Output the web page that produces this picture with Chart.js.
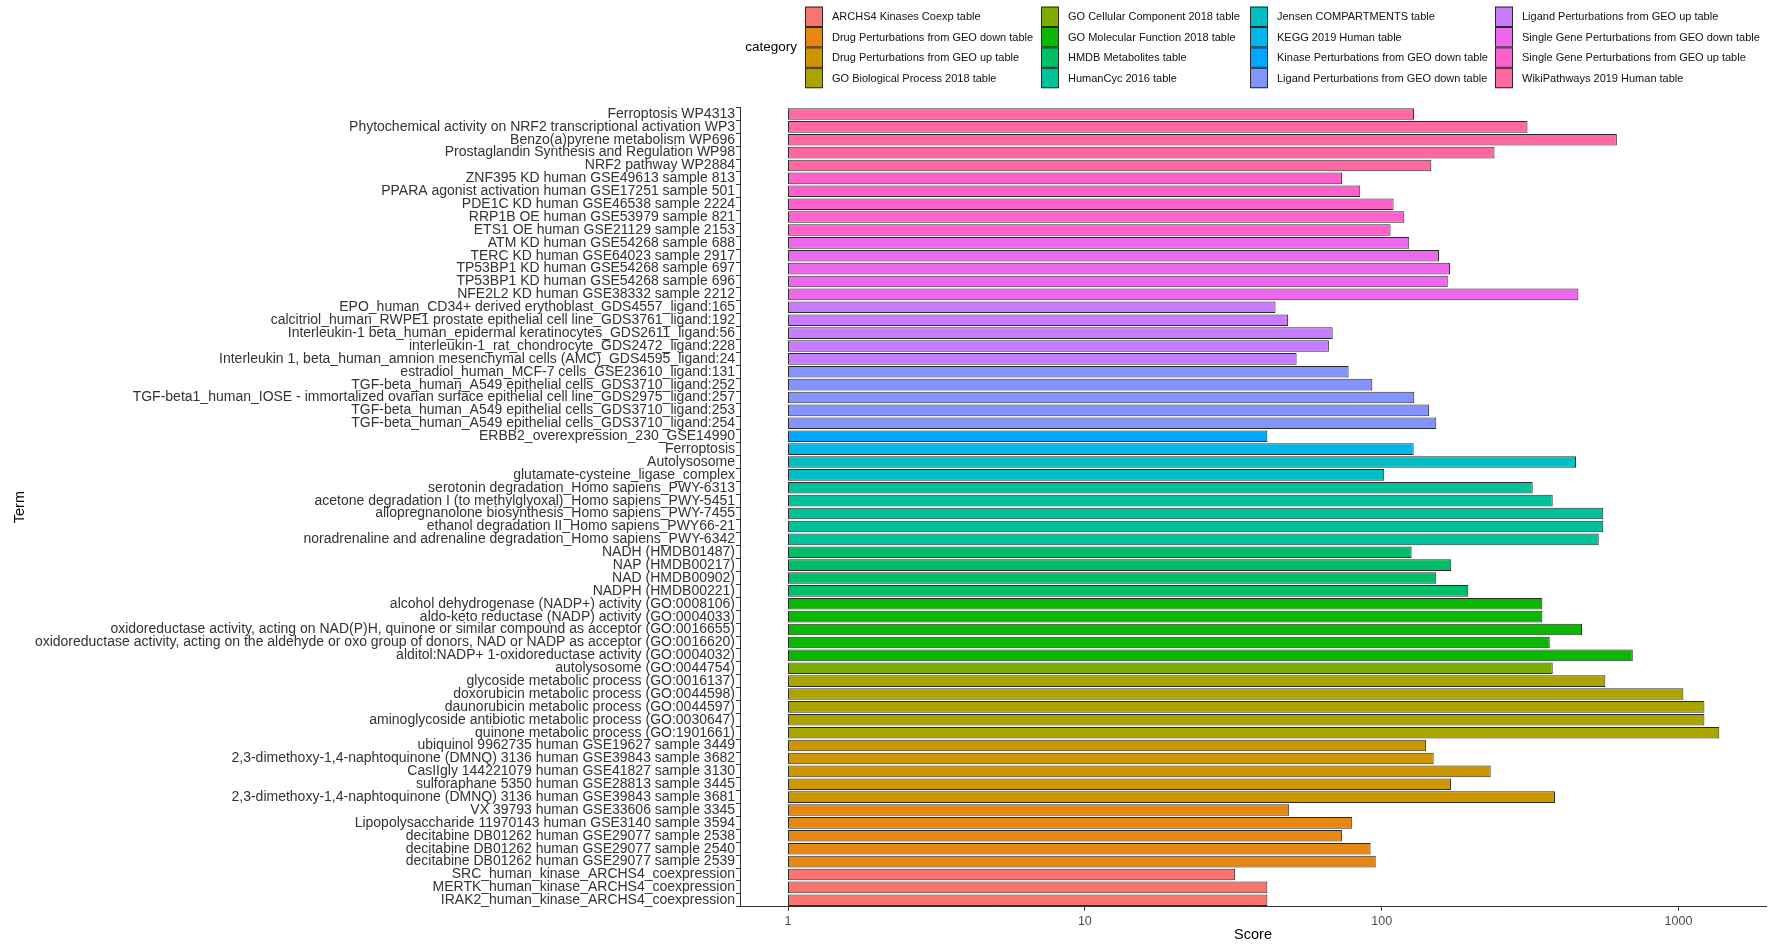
<!DOCTYPE html>
<html>
<head>
<meta charset="utf-8">
<script src="https://cdn.jsdelivr.net/npm/chart.js@4.4.1/dist/chart.umd.min.js"></script>
<style>
  html, body { margin: 0; padding: 0; background: #ffffff; }
  canvas { display: block; }
</style>
</head>
<body>
<canvas id="chart" width="1773" height="944"></canvas>
<script>
// Enrichment libraries (legend order)
const categories = [
  "ARCHS4 Kinases Coexp table",
  "Drug Perturbations from GEO down table",
  "Drug Perturbations from GEO up table",
  "GO Biological Process 2018 table",
  "GO Cellular Component 2018 table",
  "GO Molecular Function 2018 table",
  "HMDB Metabolites table",
  "HumanCyc 2016 table",
  "Jensen COMPARTMENTS table",
  "KEGG 2019 Human table",
  "Kinase Perturbations from GEO down table",
  "Ligand Perturbations from GEO down table",
  "Ligand Perturbations from GEO up table",
  "Single Gene Perturbations from GEO down table",
  "Single Gene Perturbations from GEO up table",
  "WikiPathways 2019 Human table"
];

// Hue palette, one colour per library
const categoryColors = [
  "#F8766D", "#E68613", "#CD9600", "#ABA300", "#7CAE00", "#0CB702", "#00BE67", "#00C19A",
  "#00BFC4", "#00B8E7", "#00A9FF", "#8494FF", "#C77CFF", "#ED68ED", "#FF61CC", "#FF68A1"
];

// Terms, top to bottom
const terms = [
  "Ferroptosis WP4313",
  "Phytochemical activity on NRF2 transcriptional activation WP3",
  "Benzo(a)pyrene metabolism WP696",
  "Prostaglandin Synthesis and Regulation WP98",
  "NRF2 pathway WP2884",
  "ZNF395 KD human GSE49613 sample 813",
  "PPARA agonist activation human GSE17251 sample 501",
  "PDE1C KD human GSE46538 sample 2224",
  "RRP1B OE human GSE53979 sample 821",
  "ETS1 OE human GSE21129 sample 2153",
  "ATM KD human GSE54268 sample 688",
  "TERC KD human GSE64023 sample 2917",
  "TP53BP1 KD human GSE54268 sample 697",
  "TP53BP1 KD human GSE54268 sample 696",
  "NFE2L2 KD human GSE38332 sample 2212",
  "EPO_human_CD34+ derived erythoblast_GDS4557_ligand:165",
  "calcitriol_human_RWPE1 prostate epithelial cell line_GDS3761_ligand:192",
  "Interleukin-1 beta_human_epidermal keratinocytes_GDS2611_ligand:56",
  "interleukin-1_rat_chondrocyte_GDS2472_ligand:228",
  "Interleukin 1, beta_human_amnion mesenchymal cells (AMC)_GDS4595_ligand:24",
  "estradiol_human_MCF-7 cells_GSE23610_ligand:131",
  "TGF-beta_human_A549 epithelial cells_GDS3710_ligand:252",
  "TGF-beta1_human_IOSE - immortalized ovarian surface epithelial cell line_GDS2975_ligand:257",
  "TGF-beta_human_A549 epithelial cells_GDS3710_ligand:253",
  "TGF-beta_human_A549 epithelial cells_GDS3710_ligand:254",
  "ERBB2_overexpression_230_GSE14990",
  "Ferroptosis",
  "Autolysosome",
  "glutamate-cysteine_ligase_complex",
  "serotonin degradation_Homo sapiens_PWY-6313",
  "acetone degradation I (to methylglyoxal)_Homo sapiens_PWY-5451",
  "allopregnanolone biosynthesis_Homo sapiens_PWY-7455",
  "ethanol degradation II_Homo sapiens_PWY66-21",
  "noradrenaline and adrenaline degradation_Homo sapiens_PWY-6342",
  "NADH (HMDB01487)",
  "NAP (HMDB00217)",
  "NAD (HMDB00902)",
  "NADPH (HMDB00221)",
  "alcohol dehydrogenase (NADP+) activity (GO:0008106)",
  "aldo-keto reductase (NADP) activity (GO:0004033)",
  "oxidoreductase activity, acting on NAD(P)H, quinone or similar compound as acceptor (GO:0016655)",
  "oxidoreductase activity, acting on the aldehyde or oxo group of donors, NAD or NADP as acceptor (GO:0016620)",
  "alditol:NADP+ 1-oxidoreductase activity (GO:0004032)",
  "autolysosome (GO:0044754)",
  "glycoside metabolic process (GO:0016137)",
  "doxorubicin metabolic process (GO:0044598)",
  "daunorubicin metabolic process (GO:0044597)",
  "aminoglycoside antibiotic metabolic process (GO:0030647)",
  "quinone metabolic process (GO:1901661)",
  "ubiquinol 9962735 human GSE19627 sample 3449",
  "2,3-dimethoxy-1,4-naphtoquinone (DMNQ) 3136 human GSE39843 sample 3682",
  "CasIIgly 144221079 human GSE41827 sample 3130",
  "sulforaphane 5350 human GSE28813 sample 3445",
  "2,3-dimethoxy-1,4-naphtoquinone (DMNQ) 3136 human GSE39843 sample 3681",
  "VX 39793 human GSE33606 sample 3345",
  "Lipopolysaccharide 11970143 human GSE3140 sample 3594",
  "decitabine DB01262 human GSE29077 sample 2538",
  "decitabine DB01262 human GSE29077 sample 2540",
  "decitabine DB01262 human GSE29077 sample 2539",
  "SRC_human_kinase_ARCHS4_coexpression",
  "MERTK_human_kinase_ARCHS4_coexpression",
  "IRAK2_human_kinase_ARCHS4_coexpression"
];

// Combined score per term
const scores = [
  128.5, 310, 620, 240, 147,
  73.6, 84.7, 109.7, 119.2, 107.2,
  123.9, 156, 170, 167, 460,
  43.9, 48.4, 68.4, 66.4, 51.7,
  77.4, 93, 128.8, 144.3, 152.8,
  41.2,
  128.2,
  451.6, 102,
  322.8, 377, 558, 558, 538.8,
  126.2, 171.6, 152.8, 195.8,
  347.8, 347.8, 473.3, 368.4, 701.5,
  377,
  567, 1039, 1223, 1223, 1373,
  141, 149.7, 233, 171.2, 383.7,
  48.8, 79.6, 73.6, 91.8, 95.5,
  32.1, 41.2, 41.2
];

// Library index (into categories) for each term
const termCategory = [
  15, 15, 15, 15, 15,
  14, 14, 14, 14, 14,
  13, 13, 13, 13, 13,
  12, 12, 12, 12, 12,
  11, 11, 11, 11, 11,
  10,
  9,
  8, 8,
  7, 7, 7, 7, 7,
  6, 6, 6, 6,
  5, 5, 5, 5, 5,
  4,
  3, 3, 3, 3, 3,
  2, 2, 2, 2, 2,
  1, 1, 1, 1, 1,
  0, 0, 0
];

const xTicks = [1, 10, 100, 1000];
const scoreBase = 1;

const FONT = '"Liberation Sans", Arial, Helvetica, sans-serif';

// Legend: 4 columns x 4 rows of outlined keys, titled "category"
const categoryLegend = {
  id: 'categoryLegend',
  afterDraw(chart) {
    const ctx = chart.ctx;
    const colX = [805, 1041, 1250, 1495];
    const rowH = 20.4, top0 = 6.6, keyW = 18;
    ctx.save();
    ctx.fillStyle = '#000';
    ctx.font = '13.5px ' + FONT;
    ctx.textAlign = 'right';
    ctx.textBaseline = 'middle';
    ctx.fillText('category', 797, 47.5);
    ctx.font = '11px ' + FONT;
    ctx.textAlign = 'left';
    categories.forEach((name, i) => {
      const col = Math.floor(i / 4), row = i % 4;
      const x = colX[col], y = top0 + row * rowH;
      ctx.fillStyle = categoryColors[i];
      ctx.fillRect(x, y, keyW, rowH);
      ctx.strokeStyle = '#2a2a2a';
      ctx.lineWidth = 1;
      ctx.strokeRect(x + 0.5, y + 0.5, keyW - 1, rowH - 1);
      ctx.fillStyle = '#111';
      ctx.fillText(name, x + keyW + 9, y + rowH / 2 + 0.5);
    });
    ctx.restore();
  }
};

new Chart(document.getElementById('chart'), {
  type: 'bar',
  data: {
    labels: terms,
    datasets: [{
      label: 'Score',
      data: scores.map(v => [scoreBase, v]),
      backgroundColor: termCategory.map(c => categoryColors[c]),
      borderColor: '#2b2b2b',
      borderWidth: 1,
      borderSkipped: false,
      barPercentage: 0.9,
      categoryPercentage: 1.0
    }]
  },
  options: {
    indexAxis: 'y',
    responsive: false,
    animation: false,
    layout: { padding: { top: 107.5, right: 7, bottom: 0, left: 0 } },
    plugins: {
      legend: { display: false },
      tooltip: { enabled: false }
    },
    scales: {
      x: {
        type: 'logarithmic',
        min: 0.689,
        max: 1972,
        afterBuildTicks: (scale) => { scale.ticks = xTicks.map(v => ({ value: v })); },
        afterFit: (scale) => { scale.height = 37.3; },
        ticks: {
          autoSkip: false,
          maxRotation: 0,
          padding: 3,
          color: '#4d4d4d',
          font: { family: FONT, size: 12.5 },
          callback: (v) => String(v)
        },
        grid: { drawOnChartArea: false, drawTicks: true, tickLength: 4, color: '#333', lineWidth: 1 },
        border: { display: true, color: '#333', width: 1 },
        title: {
          display: true, text: 'Score', color: '#000',
          font: { family: FONT, size: 14.5 }, padding: { top: 0, bottom: 0 }
        }
      },
      y: {
        type: 'category',
        offset: true,
        afterFit: (scale) => { scale.width = 740; },
        ticks: {
          autoSkip: false,
          padding: 1,
          color: '#333',
          font: { family: FONT, size: 14 }
        },
        grid: { drawOnChartArea: false, drawTicks: true, tickLength: 4, color: '#333', lineWidth: 1 },
        border: { display: true, color: '#333', width: 1 },
        title: {
          display: true, text: 'Term', color: '#000',
          font: { family: FONT, size: 14.5 }, padding: { top: 11, bottom: 0 }
        }
      }
    }
  },
  plugins: [categoryLegend]
});
</script>
</body>
</html>
